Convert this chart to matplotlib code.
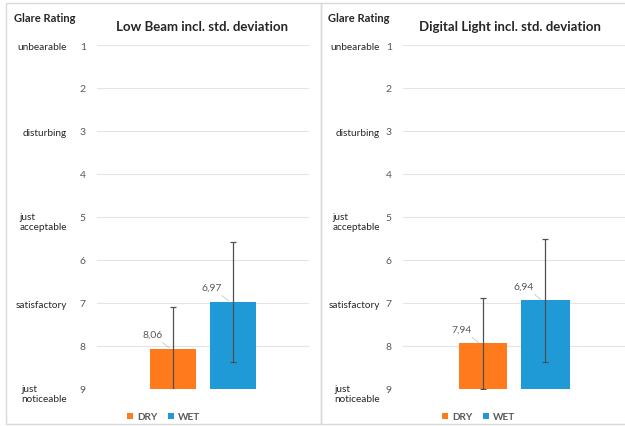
import matplotlib
matplotlib.use("Agg")
import matplotlib.pyplot as plt
from matplotlib.patches import Rectangle, Patch
import matplotlib.transforms as mtransforms

plt.rcParams["font.family"] = ["Lato", "DejaVu Sans"]

# ── data ──────────────────────────────────────────────────────────────────────
CONDITIONS   = ["DRY", "WET"]
TITLES       = ["Low Beam incl. std. deviation", "Digital Light incl. std. deviation"]
MEANS        = [[8.06, 6.97], [7.94, 6.94]]
STDS         = [[0.97, 1.40], [1.05, 1.44]]
RATING_TICKS = [1, 2, 3, 4, 5, 6, 7, 8, 9]
RATING_NAMES = {1: "unbearable", 3: "disturbing", 5: "just\nacceptable",
                7: "satisfactory", 9: "just\nnoticeable"}
COLORS       = ["#FF7A1C", "#1F9AD6"]
GRAY_TXT     = "#595959"

W, H = 625, 427
fig = plt.figure(figsize=(W / 100, H / 100), dpi=100)

def fx(px):
    return px / W

def fy(py):
    return 1 - py / H

# panel layouts in pixels
PANELS = [
    dict(pl=6, pr=321, al=97, ar=309, lab_r=67, gr_x=14, title_c=202),
    dict(pl=321, pr=640, al=403, ar=625, lab_r=380, gr_x=328, title_c=510),
]
AX_TOP, AX_BOT = 46, 390

for i, p in enumerate(PANELS):
    # panel border
    fig.patches.append(Rectangle((fx(p["pl"]), fy(425)), fx(p["pr"] - p["pl"]),
                                 (425 - 4) / H, transform=fig.transFigure,
                                 fill=False, edgecolor="#D9D9D9", linewidth=1.0))

    ax = fig.add_axes([fx(p["al"]), fy(AX_BOT), fx(p["ar"] - p["al"]),
                       (AX_BOT - AX_TOP) / H])
    x = list(range(len(CONDITIONS)))
    heights = [m - 9 for m in MEANS[i]]
    ax.bar(x, heights, bottom=9, width=0.78, color=COLORS, zorder=2)
    ax.errorbar(x, MEANS[i], yerr=STDS[i], fmt="none", ecolor="#505050",
                elinewidth=0.9, capsize=2, capthick=0.9, zorder=3)

    ax.set_ylim(9, 1)
    ax.set_xlim(-1.28, 2.28)
    ax.set_yticks(RATING_TICKS)
    ax.set_yticklabels([str(t) for t in RATING_TICKS], fontsize=7.5, color=GRAY_TXT)
    ax.tick_params(axis="y", length=0, pad=8)
    ax.set_xticks([])
    ax.grid(axis="y", color="#E4E4E4", linewidth=0.8, zorder=0)
    for s in ax.spines.values():
        s.set_visible(False)

    # value labels
    for xi, m in zip(x, MEANS[i]):
        ax.annotate(f"{m:.2f}".replace(".", ","), xy=(xi - 0.05, m),
                    xytext=(-13, 7), textcoords="offset points",
                    ha="center", va="bottom", fontsize=7.5, color=GRAY_TXT,
                    arrowprops=dict(arrowstyle="-", color="#C8C8C8", lw=0.6,
                                    shrinkA=1, shrinkB=1))

    # rating names on left
    trans = mtransforms.blended_transform_factory(fig.transFigure, ax.transData)
    for val, name in RATING_NAMES.items():
        shift = -3.5 if "\n" in name else -1
        tr = trans + mtransforms.ScaledTranslation(0, shift / 72, fig.dpi_scale_trans)
        ax.text(fx(p["lab_r"]), val, name, transform=tr, ha="right",
                va="center", multialignment="left", fontsize=7.2, color="#262626",
                linespacing=1.15)

    fig.text(fx(p["gr_x"]), fy(18), "Glare Rating", ha="left", va="center",
             fontsize=8, fontweight="bold", color="#262626")
    fig.text(fx(p["title_c"]), fy(27), TITLES[i], ha="center", va="center",
             fontsize=9.5, fontweight="bold", color="#262626")

    handles = [Patch(facecolor=c, edgecolor="none") for c in COLORS]
    leg_c = (p["pl"] + p["pr"]) / 2 - (0 if i == 0 else 2)
    fig.legend(handles, CONDITIONS, loc="center", ncol=2,
               bbox_to_anchor=(fx(leg_c), fy(418)), frameon=False,
               handlelength=0.6, handleheight=0.6,
               handletextpad=0.4, columnspacing=1.0,
               labelcolor=GRAY_TXT, prop=dict(weight="bold", size=7.2))

fig.savefig("out.png", dpi=100)
